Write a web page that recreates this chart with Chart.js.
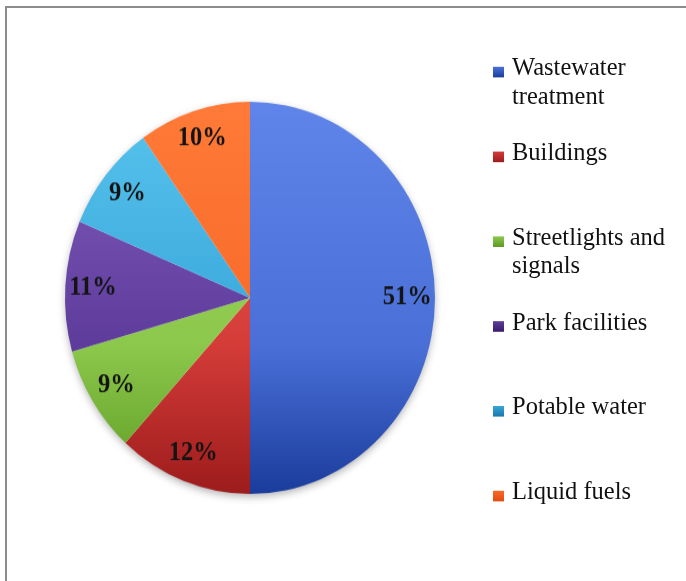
<!DOCTYPE html>
<html>
<head>
<meta charset="utf-8">
<script src="https://cdn.jsdelivr.net/npm/chart.js@4/dist/chart.umd.min.js"></script>
<style>
  html, body { margin: 0; padding: 0; background: #fff; }
  body { width: 686px; height: 581px; overflow: hidden; position: relative; }
  #frame {
    position: absolute; left: 5px; top: 6px; width: 700px; height: 600px;
    border-left: 2px solid #8c8c8c; border-top: 2px solid #8c8c8c;
  }
  /* the whole figure is a little taller than wide in the original */
  #figure {
    position: absolute; left: 0; top: 0; width: 686px; height: 548px;
    transform: scaleY(1.06); transform-origin: 0 0;
  }
  #pieBox { position: absolute; left: 50px; top: 81px; width: 400px; height: 400px; }
  #legend {
    position: absolute; left: 493px; top: 50px;
    font-family: "Liberation Serif", "Times New Roman", serif; font-size: 24.5px; color: #111;
  }
  .item { position: relative; height: 80px; width: 193px; }
  .swatch { position: absolute; left: 0; top: 12.5px; width: 11px; height: 10.5px; }
  .text { position: absolute; left: 19px; top: 0; width: 168px; line-height: 26.5px; }
</style>
</head>
<body>
<div id="frame"></div>
<div id="figure">
  <div id="pieBox"><canvas id="pie" width="400" height="400"></canvas></div>
  <div id="legend"></div>
</div>
<script>
// Datos del gráfico
const labels = ['Wastewater treatment', 'Buildings', 'Streetlights and signals', 'Park facilities', 'Potable water', 'Liquid fuels'];
const shares = [51, 12, 9, 11, 9, 10];

// Colores (claro / base / oscuro) para el degradado de cada porción
const lightColors = ['#5f85ea', '#f0645e', '#a4da68', '#8460c0', '#58c4ee', '#ff7a38'];
const baseColors  = ['#4a70d8', '#d43c38', '#8cc84c', '#5e3c9c', '#38a6da', '#f86a28'];
const darkColors  = ['#1a3c9c', '#9c1c1c', '#5c9a22', '#3a1a6a', '#1a78aa', '#e24c10'];

// Degradado vertical sobre toda la tarta
const sliceFill = (context) => {
    const i = context.dataIndex;
    const chart = context.chart;
    const area = chart.chartArea;
    if (!area) return baseColors[i];
    const g = chart.ctx.createLinearGradient(0, area.top + 15, 0, area.bottom - 15);
    g.addColorStop(0, lightColors[i]);
    g.addColorStop(0.62, baseColors[i]);
    g.addColorStop(1, darkColors[i]);
    return g;
};

// Sombra suave debajo de la tarta
const pieShadow = {
    id: 'pieShadow',
    beforeDatasetsDraw(chart) {
        const arc = chart.getDatasetMeta(0).data[0];
        if (!arc) return;
        const p = arc.getProps(['x', 'y', 'outerRadius']);
        const ctx = chart.ctx;
        ctx.save();
        ctx.shadowColor = 'rgba(0,0,0,0.35)';
        ctx.shadowBlur = 8;
        ctx.shadowOffsetY = 3;
        ctx.fillStyle = '#ffffff';
        ctx.beginPath();
        ctx.arc(p.x, p.y, p.outerRadius - 1, 0, Math.PI * 2);
        ctx.fill();
        ctx.restore();
    }
};

// Etiquetas de porcentaje dentro de cada porción
const pctLabels = {
    id: 'pctLabels',
    afterDatasetsDraw(chart) {
        const ctx = chart.ctx;
        ctx.save();
        ctx.font = 'bold 24.5px "Liberation Serif", "Times New Roman", serif';
        ctx.fillStyle = '#141414';
        ctx.textAlign = 'center';
        ctx.textBaseline = 'middle';
        chart.getDatasetMeta(0).data.forEach((arc, i) => {
            const p = arc.getProps(['x', 'y', 'startAngle', 'endAngle', 'outerRadius']);
            const mid = (p.startAngle + p.endAngle) / 2;
            const r = p.outerRadius * 0.85;
            ctx.fillText(shares[i] + '%', p.x + Math.cos(mid) * r, p.y + Math.sin(mid) * r);
        });
        ctx.restore();
    }
};

new Chart(document.getElementById('pie').getContext('2d'), {
    type: 'pie',
    data: {
        labels: labels,
        datasets: [{
            data: shares,
            backgroundColor: sliceFill,
            borderWidth: 0,
            hoverOffset: 0,
            radius: 185
        }]
    },
    options: {
        responsive: false,
        animation: false,
        layout: { padding: 0 },
        plugins: {
            legend: { display: false },
            tooltip: { enabled: false }
        }
    },
    plugins: [pieShadow, pctLabels]
});

// Leyenda en HTML (para que los textos largos pasen a dos líneas)
const legend = document.getElementById('legend');
labels.forEach((label, i) => {
    const item = document.createElement('div');
    item.className = 'item';
    const sw = document.createElement('div');
    sw.className = 'swatch';
    sw.style.background = 'linear-gradient(' + baseColors[i] + ', ' + darkColors[i] + ')';
    const tx = document.createElement('div');
    tx.className = 'text';
    tx.textContent = label;
    item.appendChild(sw);
    item.appendChild(tx);
    legend.appendChild(item);
});
</script>
</body>
</html>
